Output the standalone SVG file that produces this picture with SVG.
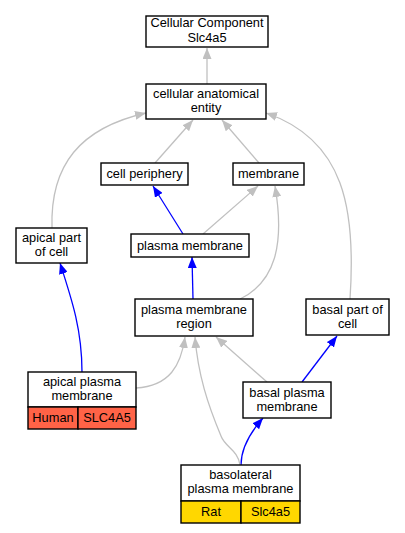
<svg xmlns="http://www.w3.org/2000/svg" width="405" height="533" viewBox="0 0 405 533">
<defs>
<marker id="ag" markerUnits="userSpaceOnUse" markerWidth="12" markerHeight="9" refX="11" refY="4.5" orient="auto"><path d="M0,0 L11,4.5 L0,9 z" fill="#c0c0c0"/></marker>
<marker id="ab" markerUnits="userSpaceOnUse" markerWidth="12" markerHeight="9" refX="11" refY="4.5" orient="auto"><path d="M0,0 L11,4.5 L0,9 z" fill="#0000ff"/></marker>
</defs>
<style>
.n rect{fill:#fff;stroke:#000;stroke-width:1.4}
text{font-family:"Liberation Sans",Arial,sans-serif;font-size:12.8px;fill:#000;text-anchor:middle}
.g{fill:none;stroke:#c0c0c0;stroke-width:1.3;marker-end:url(#ag)}
.b{fill:none;stroke:#0000ff;stroke-width:1.3;marker-end:url(#ab)}
rect.h{fill:#ff6347}
rect.r{fill:#ffd700}
</style>
<rect width="405" height="533" fill="#fff"/>
<g id="connectors">
<path class="g" d="M207,84 L207,48"/>
<path class="g" d="M155,163 L193,120"/>
<path class="g" d="M259,163 L222,120"/>
<path class="g" d="M52,228 C50,165 80,128 146,113"/>
<path class="g" d="M350,299 C356,210 345,140 266,113"/>
<path class="b" d="M183,234 L153,186"/>
<path class="g" d="M203,234 L258,186"/>
<path class="b" d="M193,299 L192,257"/>
<path class="g" d="M240,299 C275,282 285,245 275,186"/>
<path class="b" d="M82,372 C82,330 72,300 60,263"/>
<path class="g" d="M136,388 C170,386 181,365 185,337"/>
<path class="g" d="M267,382 L216,337"/>
<path class="b" d="M302,382 L337,336"/>
<path class="b" d="M241,465 C241,450 248,435 263,418"/>
<path class="g" d="M240,465 C238,450 225,447 221,436 C208,405 198,375 195,337"/>
</g>
<g id="cellular_component" class="n"><rect x="146" y="16" width="122" height="31"/><text x="207" y="27">Cellular Component</text><text x="207" y="41.5">Slc4a5</text></g>
<g id="cellular_anatomical_entity" class="n"><rect x="146" y="84" width="120" height="35"/><text x="206" y="98">cellular anatomical</text><text x="206" y="112">entity</text></g>
<g id="cell_periphery" class="n"><rect x="101" y="163" width="87" height="22"/><text x="144.5" y="178">cell periphery</text></g>
<g id="membrane" class="n"><rect x="233" y="163" width="71" height="22"/><text x="268.5" y="178">membrane</text></g>
<g id="apical_part_of_cell" class="n"><rect x="16" y="228" width="71" height="35"/><text x="51.5" y="242">apical part</text><text x="51.5" y="256">of cell</text></g>
<g id="plasma_membrane" class="n"><rect x="131" y="234" width="118" height="23"/><text x="190" y="250">plasma membrane</text></g>
<g id="plasma_membrane_region" class="n"><rect x="135" y="299" width="118" height="37"/><text x="194" y="314">plasma membrane</text><text x="194" y="328">region</text></g>
<g id="basal_part_of_cell" class="n"><rect x="306" y="299" width="83" height="36"/><text x="347.5" y="314">basal part of</text><text x="347.5" y="328">cell</text></g>
<g id="apical_plasma_membrane" class="n"><rect x="28" y="372" width="108" height="35"/><rect class="h" x="28" y="407" width="50" height="22"/><rect class="h" x="78" y="407" width="58" height="22"/><text x="82" y="386">apical plasma</text><text x="82" y="400">membrane</text><text x="53" y="422">Human</text><text x="107" y="422">SLC4A5</text></g>
<g id="basal_plasma_membrane" class="n"><rect x="243" y="382" width="88" height="36"/><text x="287" y="397">basal plasma</text><text x="287" y="411">membrane</text></g>
<g id="basolateral_plasma_membrane" class="n"><rect x="181" y="465" width="119" height="36"/><rect class="r" x="181" y="501" width="60" height="22"/><rect class="r" x="241" y="501" width="59" height="22"/><text x="240.5" y="479">basolateral</text><text x="240.5" y="493">plasma membrane</text><text x="211" y="516">Rat</text><text x="270.5" y="516">Slc4a5</text></g>
</svg>
